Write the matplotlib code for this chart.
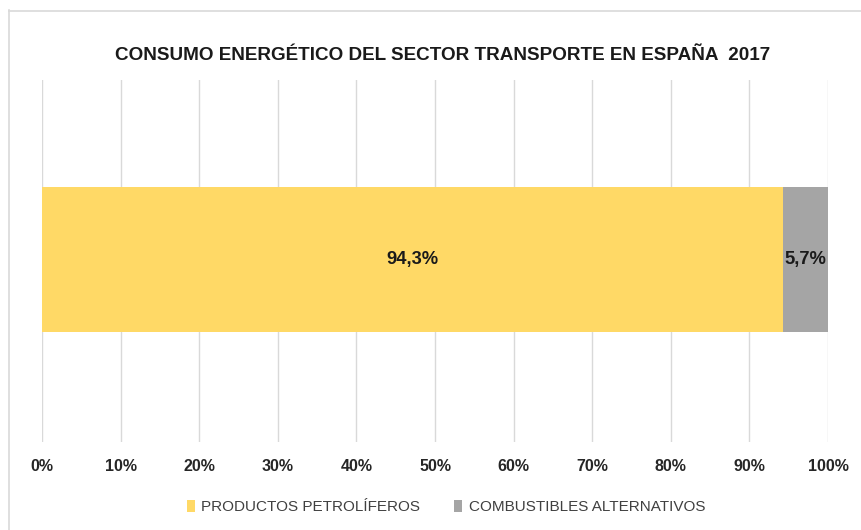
import matplotlib
matplotlib.use("Agg")
import matplotlib.pyplot as plt
from matplotlib.lines import Line2D
from matplotlib.patches import Patch

plt.rcParams['font.family'] = ['Liberation Sans', 'DejaVu Sans']

title = "CONSUMO ENERGÉTICO DEL SECTOR TRANSPORTE EN ESPAÑA  2017"
series = ["PRODUCTOS PETROLÍFEROS", "COMBUSTIBLES ALTERNATIVOS"]
values = [94.3, 5.7]
labels = ["94,3%", "5,7%"]
colors = ["#FFD966", "#A5A5A5"]
ticks = [0, 10, 20, 30, 40, 50, 60, 70, 80, 90, 100]
tick_labels = [f"{t}%" for t in ticks]

W, H = 861, 530
fig = plt.figure(figsize=(W/100, H/100), dpi=100)
ax = fig.add_axes([42/W, (H-442)/H, (828-42)/W, (442-80)/H])

left = 0
for v, c, lab, name in zip(values, colors, labels, series):
    ax.barh(0.005, v, left=left, height=0.4, color=c, zorder=3, label=name)
    ax.text(left + v/2, 0.005, lab, ha='center', va='center', fontsize=13.2,
            fontweight='bold', color='#1a1a1a', zorder=4)
    left += v

ax.set_xlim(0, 100)
ax.set_ylim(-0.5, 0.5)
ax.set_xticks(ticks)
ax.set_xticklabels(tick_labels, fontsize=11.5, fontweight='bold', color='#262626')
ax.set_yticks([])
ax.tick_params(axis='x', length=0, pad=12)
ax.grid(axis='x', color='#D9D9D9', linewidth=1, zorder=0)
for s in ax.spines.values():
    s.set_visible(False)

fig.text(443/W, 1-55/H, title, ha='center', va='center',
         fontsize=13.6, fontweight='bold', color='#1a1a1a')

handles = [Patch(facecolor=c, edgecolor='none') for c in colors]
fig.legend(handles, series, loc='center', bbox_to_anchor=(446/W, 1-507/H),
           ncol=2, frameon=False, fontsize=11, handlelength=0.55, handleheight=0.9,
           handletextpad=0.4, columnspacing=2.2, labelcolor='#404040')

# chart frame
fig.add_artist(Line2D([8.5/W, 8.5/W], [0, 1-10/H], color='#D9D9D9', lw=1.2, transform=fig.transFigure))
fig.add_artist(Line2D([8.5/W, 1], [1-10.5/H, 1-10.5/H], color='#D9D9D9', lw=1.2, transform=fig.transFigure))

fig.savefig("out.png", dpi=100)
